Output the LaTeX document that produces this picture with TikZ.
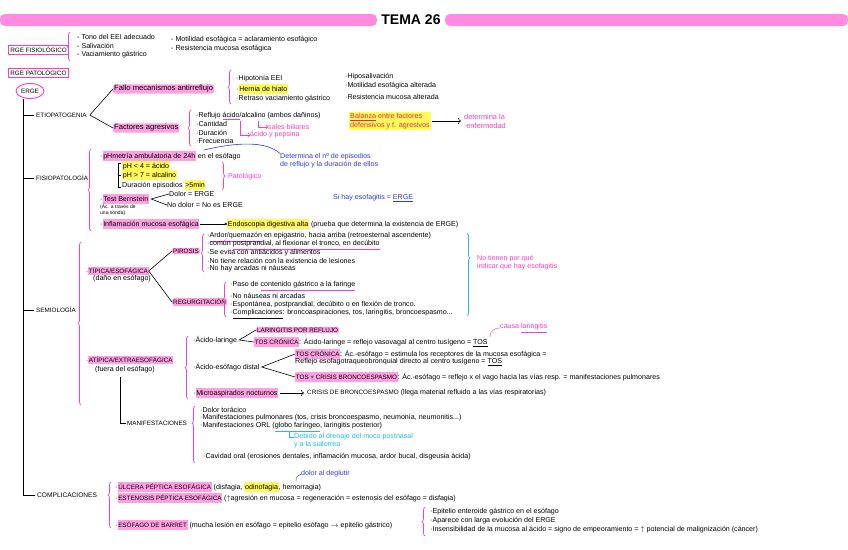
\documentclass[tikz,border=0pt]{standalone}
\usepackage{fontspec}
\setmainfont{Liberation Sans}
\usetikzlibrary{shapes.geometric,decorations.pathreplacing,arrows.meta}

\definecolor{barpink}{RGB}{255,140,224}
\definecolor{hlpink}{RGB}{255,160,226}
\definecolor{hlyel}{RGB}{255,250,90}
\definecolor{pinkt}{RGB}{255,60,190}
\definecolor{bluet}{RGB}{40,60,220}
\definecolor{cyant}{RGB}{30,190,210}
\definecolor{redt}{RGB}{240,40,80}

\newcommand{\txtsz}{\fontsize{7.1}{8}\selectfont}
\newcommand{\capsz}{\fontsize{6.3}{7}\selectfont}
\newcommand{\hlp}[1]{\begingroup\setlength{\fboxsep}{0.7pt}\colorbox{hlpink}{\vphantom{Áy}#1}\endgroup}
\newcommand{\hly}[1]{\begingroup\setlength{\fboxsep}{0.7pt}\colorbox{hlyel}{\vphantom{Áy}#1}\endgroup}
\newcommand{\ulp}[1]{{\color{pinkt}\underline{\color{black}#1}}}
\newcommand{\ulc}[1]{{\color{cyant}\underline{\color{black}#1}}}

\begin{document}
\begin{tikzpicture}[x=1pt, y=-1pt, every node/.style={font=\txtsz, inner sep=0pt, anchor=west}, capl/.style={font=\capsz}, hp/.style={fill=hlpink, inner sep=1pt, rounded corners=2pt}, hy/.style={fill=hlyel, inner sep=1pt}, pbox/.style={draw=pinkt, line width=0.8pt, inner sep=2pt, font=\capsz}, brc/.style={decorate, decoration={brace, amplitude=3pt}, draw=pinkt, line width=0.7pt}, link/.style={line width=0.6pt}]
	\useasboundingbox (0,0) rectangle (848,549);
	% title
	\fill[barpink, rounded corners=5pt] (0,14) rectangle (377,26);
	\fill[barpink, rounded corners=5pt] (445,14) rectangle (848,26);
	\node[font=\bfseries\fontsize{14}{14}\selectfont, anchor=center] (tema) at (411,20) {TEMA 26};
	% RGE fisiologico
	\node[pbox] (rgef) at (8,50) {RGE FISIOLÓGICO};
	\draw[brc] (70,61) -- (70,32);
	\node (tono) at (77,37) {- Tono del EEI adecuado};
	\node (saliv) at (77,46) {- Salivación};
	\node (vacg) at (77,55) {- Vaciamiento gástrico};
	\node (motil) at (171,40) {- Motilidad esofágica = aclaramiento esofágico};
	\node (resist) at (171,49) {- Resistencia mucosa esofágica};
	% RGE patologico
	\node[pbox] (rgep) at (8,73) {RGE PATOLÓGICO};
	\node[draw=pinkt, ellipse, line width=0.9pt, font=\capsz, anchor=center, minimum width=28, minimum height=15] (erge) at (30,91) {ERGE};
	\coordinate (spine) at (23,98.5);
	% etiopatogenia
	\node[capl] (etio) at (36,115) {ETIOPATOGENIA};
	\node[hp, font=\fontsize{7.6}{9}\selectfont] (fallo) at (113,89) {Fallo mecanismos antirreflujo};
	\node[hp, font=\fontsize{7.6}{9}\selectfont] (facag) at (113,128) {Factores agresivos};
	\draw[link] ([xshift=3pt]etio.east) -- (fallo.west);
	\draw[link] ([xshift=3pt]etio.east) -- (facag.west);
	\draw[brc] (231,104) -- (231,70);
	\node (hipot) at (236,79) {·Hipotonía EEI};
	\node (hernia) at (236,89) {·\hly{Hernia de hiato}};
	\node (retraso) at (236,99) {·Retraso vaciamiento gástrico};
	\node (hiposal) at (345,77) {·Hiposalivación};
	\node (motalt) at (345,86) {·Motilidad esofágica alterada};
	\node (resalt) at (345,97) {·Resistencia mucosa alterada};
	\draw[brc] (191,146) -- (191,110);
	\node (reflujo) at (196,116) {·Reflujo \ulp{ácido}/alcalino (ambos dañinos)};
	\node (cant) at (196,124) {·Cantidad};
	\node (durac) at (196,133) {·Duración};
	\node (frec) at (196,141) {·Frecuencia};
	\coordinate (acidoU) at (240,121);
	\coordinate (alcU) at (258,121);
	\node[text=pinkt] (biliar) at (268,127) {sales biliares};
	\node[text=pinkt] (pepsina) at (250,135) {ácido y pepsina};
	\draw[pinkt, ->] (alcU) |- (biliar.west);
	\draw[pinkt, ->] (acidoU) |- (pepsina.west);
	\node[hy, text=redt, align=left, font=\fontsize{7.2}{9}\selectfont] (balanza) at (349,121) {\underline{Balanza} entre factores\\defensivos y f. agresivos};
	\node[text=pinkt, align=left, font=\fontsize{7.4}{9}\selectfont] (determ) at (464,121) {determina la\\\ enfermedad};
	\draw[link, ->, shorten <=1pt, shorten >=3pt] (balanza.east) -- (determ.west);
	% fisiopatologia
	\node[capl] (fisio) at (36,178) {FISIOPATOLOGÍA};
	\draw[brc] (91,231) -- (91,149);
	\node (phm) at (100,156) {·\hlp{pHmetría ambulatoria de 24h} en el esófago};
	\draw[link] (121,163) -- (118,163) -- (118,187) -- (121,187);
	\draw[link] (118,175) -- (121,175);
	\node (ph4) at (122,166) {\hly{pH < 4 = ácido}};
	\node (ph7) at (122,175) {\hly{pH > 7 = alcalino}};
	\node (durep) at (122,185) {Duración episodios \hly{>5min}};
	\draw[brc] (222,162) -- (222,190);
	\node[text=pinkt] (patol) at (228,177) {Patológico};
	\node[text=bluet, align=left] (detep) at (280,161) {Determina el nº de episodios\\de reflujo y la duración de ellos};
	\coordinate (esofT) at (204,150);
	\draw[bluet, link] (esofT) .. controls (238,142) and (266,141) .. (detep.north west);
	\node (bern) at (100,199) {·\hlp{Test Bernstein}};
	\node[font=\fontsize{5}{6}\selectfont, align=left] (bernn) at (100,210) {(Ác. a través de\\una sonda)};
	\node (dolor) at (169,194) {Dolor = ERGE};
	\node (nodolor) at (167,205) {No dolor = No es ERGE};
	\draw[link] (dolor.west) -- ([xshift=2pt]bern.east) -- (nodolor.west);
	\node[text=bluet] (sihay) at (333,198) {Si hay esofagitis = \underline{ERGE}};
	\node (inflam) at (100,224) {·\hlp{Inflamación mucosa esofágica}};
	\node (endo) at (227,224) {\hly{Endoscopia digestiva alta} (prueba que determina la existencia de ERGE)};
	\draw[link, -{Circle[open, length=2.5pt]}] (inflam.east) -- (endo.west);
	% semiologia
	\node[capl] (semio) at (36,310) {SEMIOLOGÍA};
	\draw[brc] (81,405) -- (81,242);
	\node[capl] (tipica) at (86,271) {·\hlp{TÍPICA/ESOFÁGICA}};
	\node (tipican) at (93,279) {(daño en esófago)};
	\node[capl, hp] (piro) at (172,251) {PIROSIS};
	\node[capl, hp] (regur) at (172,302) {REGURGITACIÓN};
	\draw[link] (tipica.east) -- (piro.west);
	\draw[link] (tipica.east) -- (regur.west);
	\draw[brc] (204,272) -- (204,234);
	\node (pir1) at (207,237) {·\ulp{Ardor/quemazón} en epigastrio, hacia arriba (retroesternal ascendente)};
	\node (pir2) at (207,245) {·común \ulp{postprandial, al flexionar el tronco, en decúbito}};
	\node (pir3) at (207,253) {·Se evita con antiácidos y alimentos};
	\node (pir4) at (207,261) {·No tiene relación con la existencia de lesiones};
	\node (pir5) at (207,269) {·No hay arcadas ni náuseas};
	\draw[brc] (226,317) -- (226,282);
	\node (reg1) at (230,286) {·Paso de \ulp{contenido gástrico a la faringe}};
	\node (reg2) at (230,296) {·No náuseas ni arcadas};
	\node (reg3) at (230,305) {·Espontánea, postprandial, decúbito o en flexión de tronco.};
	\node (reg4) at (230,314) {·\underline{Complicaciones}: broncoaspiraciones, tos, laringitis, broncoespasmo...};
	\draw[brc, draw=cyant, decoration={aspect=0.3}] (467,233) -- (467,316);
	\node[text=pinkt, align=left] (notienen) at (477,263) {No tienen por qué\\indicar que hay esofagitis};
	\node[capl] (atip) at (86,360) {·\hlp{ATÍPICA/EXTRAESOFÁGICA}};
	\node (atipn) at (95,370) {(fuera del esófago)};
	\draw[brc] (188,399) -- (188,336);
	\node (acl) at (193,340) {·Ácido-laringe};
	\node[capl, hp] (laring) at (256,330) {LARINGITIS POR REFLUJO};
	\node (tos1) at (254,342) {\hlp{\capsz TOS CRÓNICA}: Ácido-laringe = reflejo vasovagal al centro tusígeno = \underline{TOS}};
	\draw[link] (laring.west) -- ([xshift=2pt]acl.east) -- (tos1.west);
	\node[text=pinkt] (causa) at (500,328) {causa \underline{laringitis}};
	\coordinate (tosU) at (490,337);
	\draw[pinkt] (tosU) .. controls (490,331) and (494,328) .. (causa.west);
	\node (aed) at (193,367) {·Ácido-esófago distal};
	\node (tos2a) at (295,354) {\hlp{\capsz TOS CRÓNICA}: Ác.-esófago = estimula los receptores de la mucosa esofágica =};
	\node (tos2b) at (295,362) {Reflejo esofagotraqueobronquial directo al centro tusígeno = \underline{TOS}};
	\node (tos3) at (295,377) {\hlp{\capsz TOS + CRISIS BRONCOESPASMO}: Ác.-esófago = reflejo x el vago hacia las vías resp. = manifestaciones pulmonares};
	\draw[link] (tos2a.west) -- ([xshift=2pt]aed.east) -- (tos3.west);
	\node (micro) at (193,393) {·\hlp{Microaspirados nocturnos}};
	\node (crisis) at (307,393) {{\capsz CRISIS DE BRONCOESPASMO} (llega material refluido a las vías respiratorias)};
	\draw[link, ->, shorten <=2pt, shorten >=3pt] (micro.east) -- (crisis.west);
	\node[capl] (manif) at (127,423) {MANIFESTACIONES};
	\coordinate (atipb) at (120,377);
	\draw[link] (atipb) |- ([xshift=-1pt]manif.west);
	\draw[brc, decoration={aspect=0.7}] (195,463) -- (195,406);
	\node (man1) at (200,410) {·Dolor torácico};
	\node (man2) at (200,418) {·Manifestaciones pulmonares (tos, crisis broncoespasmo, neumonía, neumonitis...)};
	\node (man3) at (200,427) {·Manifestaciones ORL (\ulc{globo faríngeo}, laringitis posterior)};
	\node[text=cyant, align=left] (debido) at (294,441) {Debido al drenaje del moco postnasal\\y a la sialorrea};
	\coordinate (globoU) at (289,431);
	\draw[cyant, link] (globoU) |- ([yshift=3.5pt]debido.west);
	\node (man4) at (203,457) {·Cavidad oral (erosiones dentales, inflamación mucosa, ardor bucal, disgeusia ácida)};
	% complicaciones
	\node[font=\fontsize{6.6}{7.5}\selectfont] (compl) at (37,495) {COMPLICACIONES};
	\draw[brc, decoration={aspect=0.72}] (111,528) -- (111,482);
	\node (ulc) at (115,487) {·\hlp{\capsz ÚLCERA PÉPTICA ESOFÁGICA} (disfagia, \hly{odinofagia}, hemorragia)};
	\node[text=bluet] (deglut) at (301,474) {dolor al deglutir};
	\coordinate (odinoT) at (296,482);
	\draw[bluet] (odinoT) .. controls (296,477) .. (deglut.west);
	\node (esten) at (115,498) {·\hlp{\capsz ESTENOSIS PÉPTICA ESOFÁGICA} ($\uparrow$agresión en mucosa = regeneración = estenosis del esófago = disfagia)};
	\node (barret) at (115,525) {·\hlp{\capsz ESÓFAGO DE BARRET} (mucha lesión en esófago = epitelio esófago $\rightarrow$ epitelio gástrico)};
	\draw[brc] (425,536) -- (425,507);
	\node (bar1) at (430,512) {·Epitelio enteroide gástrico en el esófago};
	\node (bar2) at (430,521) {·Aparece con larga evolución del ERGE};
	\node (bar3) at (430,530) {·Insensibilidad de la mucosa al ácido = signo de empeoramiento = $\uparrow$ potencial de malignización (cáncer)};
	% spine
	\draw[link] (spine) |- ([xshift=-2pt]compl.west);
	\foreach \b in {etio, fisio, semio} {\draw[link] (spine |- \b.west) -- ([xshift=-2pt]\b.west);}
\end{tikzpicture}
\end{document}
